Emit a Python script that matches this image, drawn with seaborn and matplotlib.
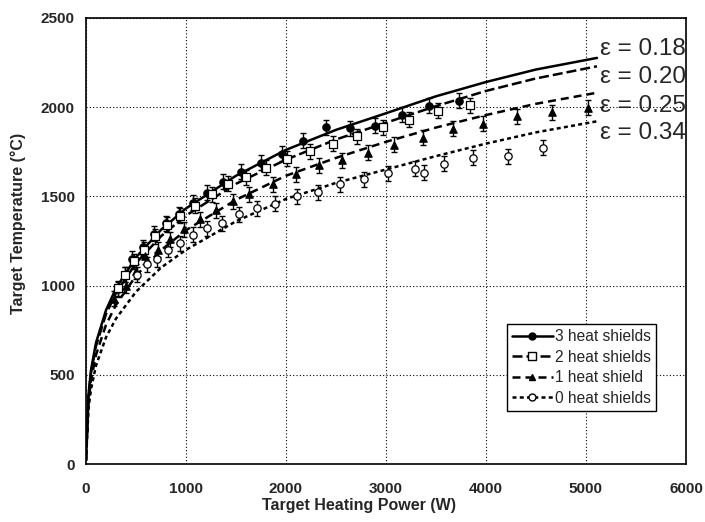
import matplotlib
matplotlib.use("Agg")
import matplotlib.pyplot as plt
from matplotlib.lines import Line2D
import seaborn as sns
import pandas as pd

# model curves
curve_power = [0, 25, 50, 100, 200, 300, 500, 750, 1000, 1500, 2000, 2500, 3000, 3500, 4000, 4500, 5110]
curve_eps018 = [20, 390, 527, 680, 862, 985, 1158, 1312, 1432, 1615, 1760, 1872, 1965, 2060, 2140, 2210, 2275]
curve_eps020 = [20, 380, 511, 661, 840, 958, 1126, 1276, 1392, 1570, 1705, 1818, 1912, 2005, 2090, 2160, 2228]
curve_eps025 = [20, 350, 470, 612, 780, 892, 1055, 1198, 1310, 1480, 1615, 1715, 1805, 1885, 1955, 2018, 2080]
curve_eps034 = [20, 310, 420, 552, 710, 815, 965, 1100, 1200, 1360, 1485, 1575, 1650, 1725, 1795, 1858, 1920]
eps_labels = ["ε = 0.18", "ε = 0.20", "ε = 0.25", "ε = 0.34"]
eps_label_y = [2325, 2168, 2003, 1857]

# measured points
p3 = [320, 390, 460, 570, 680, 800, 930, 1070, 1210, 1370, 1550, 1750, 1960, 2170, 2400, 2640, 2890, 3160, 3430, 3730]
t3 = [980, 1060, 1150, 1215, 1290, 1350, 1400, 1465, 1520, 1580, 1637, 1687, 1737, 1812, 1887, 1880, 1896, 1956, 2008, 2036]
p2 = [320, 390, 475, 575, 690, 805, 935, 1090, 1255, 1425, 1600, 1805, 2010, 2240, 2470, 2710, 2970, 3230, 3520, 3840]
t2 = [985, 1060, 1135, 1200, 1275, 1340, 1390, 1448, 1510, 1569, 1607, 1659, 1710, 1752, 1793, 1836, 1887, 1930, 1980, 2010]
p1 = [280, 400, 495, 590, 720, 840, 980, 1135, 1300, 1470, 1635, 1870, 2100, 2330, 2560, 2820, 3080, 3370, 3670, 3970, 4310, 4660, 5020]
t1 = [925, 1000, 1080, 1165, 1200, 1258, 1315, 1372, 1423, 1472, 1512, 1566, 1622, 1674, 1702, 1743, 1790, 1827, 1877, 1905, 1948, 1971, 1995]
p0 = [510, 605, 710, 820, 940, 1070, 1205, 1365, 1530, 1715, 1895, 2110, 2320, 2540, 2780, 3020, 3295, 3380, 3580, 3875, 4220, 4575]
t0 = [1060, 1118, 1148, 1200, 1238, 1285, 1321, 1350, 1400, 1434, 1458, 1500, 1523, 1566, 1594, 1628, 1654, 1631, 1681, 1715, 1724, 1771]
t_err = 42
series_names = ["3 heat shields", "2 heat shields", "1 heat shield", "0 heat shields"]

sns.set_style("white")
plt.rcParams["font.family"] = ["Liberation Sans", "DejaVu Sans"]

curves = pd.DataFrame({
    "power": curve_power * 4,
    "temp": curve_eps018 + curve_eps020 + curve_eps025 + curve_eps034,
    "eps": sum([[e] * len(curve_power) for e in eps_labels], []),
})
dash_map = {eps_labels[0]: "", eps_labels[1]: (4, 1.6), eps_labels[2]: (3.2, 2), eps_labels[3]: (1.6, 1.3)}

fig = plt.figure(figsize=(7.05, 5.22), dpi=100)
ax = fig.add_axes([0.122, 0.111, 0.851, 0.855])

sns.lineplot(data=curves, x="power", y="temp", style="eps", dashes=dash_map,
             color="black", lw=1.8, sort=False, estimator=None, legend=False, ax=ax)

points = [(p3, t3, "o", "black"), (p2, t2, "s", "white"), (p1, t1, "^", "black"), (p0, t0, "o", "white")]
for px, pt, mk, fc in points:
    ax.errorbar(px, pt, yerr=t_err, fmt="none", ecolor="black", elinewidth=1, capsize=2.5, capthick=1, zorder=3)
    sns.scatterplot(x=px, y=pt, marker=mk, s=28, color=fc, edgecolor="black", linewidth=0.9, zorder=4, ax=ax)

for lab, y in zip(eps_labels, eps_label_y):
    ax.text(5140, y, lab, fontsize=17.5, va="center", ha="left", clip_on=False)

ax.set_xlim(0, 6000)
ax.set_ylim(0, 2500)
ax.set_xticks(range(0, 6001, 1000))
ax.set_yticks(range(0, 2501, 500))
ax.grid(True, color="black", linestyle=(0, (1, 2)), linewidth=0.8)
for s in ax.spines.values():
    s.set_color("black")
    s.set_linewidth(1.2)
ax.tick_params(axis="x", length=2, pad=11, labelsize=11, color="black")
ax.tick_params(axis="y", length=3, pad=5, labelsize=11, color="black")
for lbl in ax.get_xticklabels() + ax.get_yticklabels():
    lbl.set_fontweight("bold")

ax.set_xlabel("Target Heating Power (W)", fontsize=11.5, fontweight="bold")
ax.set_ylabel("Target Temperature (°C)", fontsize=11.5, fontweight="bold")
ax.xaxis.set_label_coords(0.455, -0.077)
ax.yaxis.set_label_coords(-0.1, 0.54)

handles = [
    Line2D([], [], color="black", lw=1.8, marker="o", ms=5, mfc="black", mec="black"),
    Line2D([], [], color="black", lw=1.8, dashes=(4, 1.6), marker="s", ms=5.5, mfc="white", mec="black"),
    Line2D([], [], color="black", lw=1.8, dashes=(3.2, 2), marker="^", ms=5, mfc="black", mec="black"),
    Line2D([], [], color="black", lw=1.8, dashes=(1.6, 1.3), marker="o", ms=5, mfc="white", mec="black"),
]
leg = ax.legend(handles, series_names, loc="lower right", bbox_to_anchor=(0.95, 0.119), borderaxespad=0,
                fontsize=11.2, fancybox=False, framealpha=1, edgecolor="black", handlelength=2.6,
                labelspacing=0.36, handletextpad=0.15, borderpad=0.33)
leg.get_frame().set_linewidth(1)

fig.savefig("out.png", dpi=100)
